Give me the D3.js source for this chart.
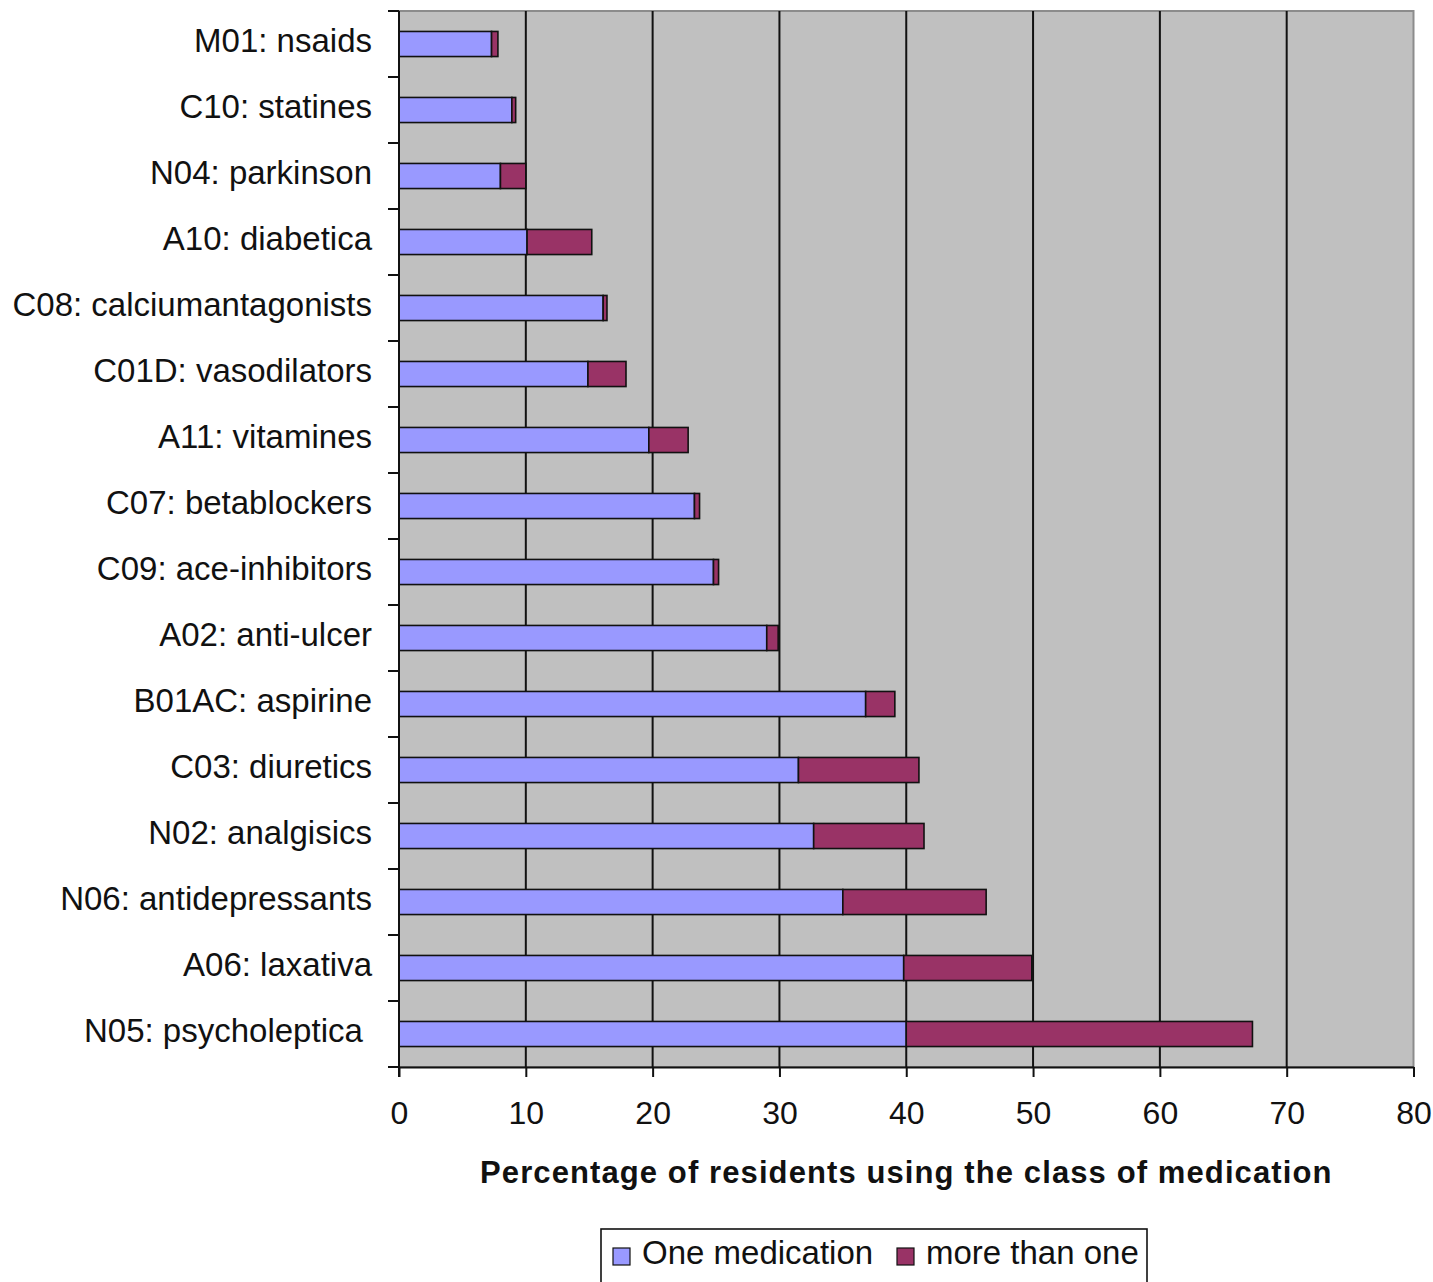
<!DOCTYPE html>
<html>
<head>
<meta charset="utf-8">
<script src="https://cdn.jsdelivr.net/npm/d3@7"></script>
<style>
  html, body { margin: 0; padding: 0; background: #ffffff; }
  svg { display: block; font-family: "Liberation Sans", Arial, sans-serif; }
</style>
</head>
<body>
<svg id="chart" width="1433" height="1282"></svg>
<script>
// Medication classes, top to bottom
const categories = [
  "M01: nsaids", "C10: statines", "N04: parkinson", "A10: diabetica",
  "C08: calciumantagonists", "C01D: vasodilators", "A11: vitamines",
  "C07: betablockers", "C09: ace-inhibitors", "A02: anti-ulcer",
  "B01AC: aspirine", "C03: diuretics", "N02: analgisics",
  "N06: antidepressants", "A06: laxativa", "N05: psycholeptica "
];
// Percentage of residents using exactly one medication of the class
const oneMedication = [7.3, 8.9, 8.0, 10.1, 16.1, 14.9, 19.7, 23.3, 24.8, 29.0, 36.8, 31.5, 32.7, 35.0, 39.8, 40.0];
// Percentage of residents using more than one medication of the class
const moreThanOne   = [0.5, 0.3, 2.0, 5.1, 0.3, 3.0, 3.1, 0.4, 0.4, 0.9, 2.3, 9.5, 8.7, 11.3, 10.1, 27.3];
const seriesNames = ["One medication", "more than one"];
const xTicks = [0, 10, 20, 30, 40, 50, 60, 70, 80];
const xTitle = "Percentage of residents using the class of medication";

const colors = ["#9999ff", "#993366"];
const svg = d3.select("#chart");
const plot = { left: 399, right: 1413.5, top: 11, bottom: 1067 };

const x = d3.scaleLinear().domain([0, 80]).range([plot.left, plot.right]);
const yBand = d3.scaleBand().domain(categories).range([plot.top, plot.bottom]);
const yBar = d3.scaleBand().domain(categories).range([plot.top, plot.bottom])
  .paddingInner(0.62).paddingOuter(0.31);

// plot background
svg.append("rect")
  .attr("x", plot.left).attr("y", plot.top)
  .attr("width", plot.right - plot.left).attr("height", plot.bottom - plot.top)
  .attr("fill", "#c0c0c0").attr("stroke", "#8c8c8c").attr("stroke-width", 2);

// vertical gridlines
svg.append("g").selectAll("line")
  .data(xTicks.filter(t => t > 0 && t < 80))
  .join("line")
  .attr("x1", d => x(d)).attr("x2", d => x(d))
  .attr("y1", plot.top).attr("y2", plot.bottom)
  .attr("stroke", "#111").attr("stroke-width", 2);

// stacked bars
const rows = categories.map((c, i) => ({ cat: c, vals: [oneMedication[i], moreThanOne[i]] }));
const segs = [];
rows.forEach(r => {
  let acc = 0;
  r.vals.forEach((v, k) => { segs.push({ cat: r.cat, k, x0: acc, x1: acc + v }); acc += v; });
});
svg.append("g").selectAll("rect")
  .data(segs)
  .join("rect")
  .attr("x", d => x(d.x0))
  .attr("y", d => yBar(d.cat))
  .attr("width", d => x(d.x1) - x(d.x0))
  .attr("height", yBar.bandwidth())
  .attr("fill", d => colors[d.k])
  .attr("stroke", "#111").attr("stroke-width", 1.6);

// x axis
const xAxis = svg.append("g")
  .attr("transform", `translate(0,${plot.bottom})`)
  .call(d3.axisBottom(x).tickValues(xTicks).tickSize(10).tickPadding(24).tickSizeOuter(0));
xAxis.select(".domain").attr("stroke", "#111").attr("stroke-width", 2);
xAxis.selectAll(".tick line").attr("stroke", "#111").attr("stroke-width", 2);
xAxis.selectAll(".tick text")
  .attr("font-size", 32).attr("fill", "#111")
  .attr("font-family", "'Liberation Sans', Arial, sans-serif");

// y axis: ticks at band boundaries, labels at band centres
const yAxisG = svg.append("g");
yAxisG.append("line")
  .attr("x1", plot.left).attr("x2", plot.left)
  .attr("y1", plot.top).attr("y2", plot.bottom + 10)
  .attr("stroke", "#111").attr("stroke-width", 2);
const bounds = categories.map(c => yBand(c)).concat([plot.bottom]);
yAxisG.selectAll("line.tk")
  .data(bounds)
  .join("line").attr("class", "tk")
  .attr("x1", plot.left - 11).attr("x2", plot.left)
  .attr("y1", d => d).attr("y2", d => d)
  .attr("stroke", "#111").attr("stroke-width", 2);
yAxisG.selectAll("text")
  .data(categories)
  .join("text")
  .attr("x", 372)
  .attr("y", d => yBand(d) + yBand.bandwidth() / 2 - 4)
  .attr("text-anchor", "end")
  .attr("dominant-baseline", "central")
  .attr("font-size", 33)
  .attr("fill", "#111")
  .style("white-space", "pre")
  .text(d => d);

// axis title
svg.append("text")
  .attr("x", (plot.left + plot.right) / 2)
  .attr("y", 1183)
  .attr("text-anchor", "middle")
  .attr("font-size", 31)
  .attr("font-weight", "bold")
  .attr("letter-spacing", 1.1)
  .attr("fill", "#111")
  .text(xTitle);

// legend
const legend = svg.append("g");
legend.append("rect")
  .attr("x", 601).attr("y", 1229).attr("width", 546).attr("height", 62)
  .attr("fill", "#fff").attr("stroke", "#111").attr("stroke-width", 1.6);
const legendX = [613, 897];
seriesNames.forEach((name, i) => {
  legend.append("rect")
    .attr("x", legendX[i]).attr("y", 1248).attr("width", 17).attr("height", 17)
    .attr("fill", colors[i]).attr("stroke", "#111").attr("stroke-width", 1.2);
  legend.append("text")
    .attr("x", legendX[i] + 29).attr("y", 1264)
    .attr("font-size", 33).attr("fill", "#111")
    .text(name);
});
</script>
</body>
</html>
